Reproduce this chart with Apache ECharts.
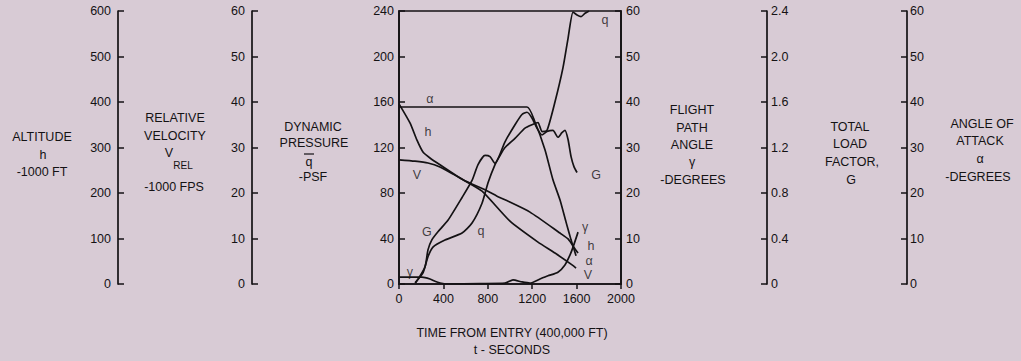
<!DOCTYPE html>
<html>
<head>
<meta charset="utf-8">
<script src="https://cdn.jsdelivr.net/npm/echarts@6/dist/echarts.min.js"></script>
<style>
  html,body{margin:0;padding:0;background:#d8cbd5;}
  #chart{width:1021px;height:361px;}
</style>
</head>
<body>
<div id="chart"></div>
<script>
// ---- Data ----
// time in seconds from entry
const timeTicks = [0, 400, 800, 1200, 1600, 2000];

// Altitude h, 1000 ft
const altT = [0, 99, 162, 216, 279, 369, 577, 775, 883, 955, 1180, 1450, 1523, 1586, 1613];
const altV = [396, 354, 316, 290, 277, 262, 229, 207, 193, 185, 158, 112, 99, 77, 68];

// Relative velocity V, 1000 fps
const velT = [0, 144, 261, 369, 577, 748, 1000, 1252, 1405, 1559, 1595];
const velV = [27.3, 27.0, 26.6, 25.7, 22.9, 20.4, 13.8, 9.2, 6.8, 4.2, 3.5];

// Angle of attack alpha, degrees
const aoaT = [0, 1153, 1225, 1315, 1387, 1450, 1505, 1550, 1595];
const aoaV = [38.9, 38.9, 35.6, 29.5, 22.9, 18.5, 13.6, 9.7, 6.2];

// Flight path angle gamma, degrees
const fpaT = [0, 207, 279, 342, 432, 730, 955, 1027, 1108, 1180, 1270, 1342, 1432, 1495, 1541, 1568, 1613];
const fpaV = [1.5, 1.5, 1.1, 0.45, 0, 0.1, 0.2, 0.9, 0.45, 0.2, 1.1, 1.8, 2.6, 4.2, 6.4, 8.1, 11.4];

// Total load factor G
const loadT = [150, 234, 261, 297, 351, 441, 568, 658, 712, 775, 820, 865, 955, 1045, 1108, 1153, 1198, 1243, 1288, 1333, 1387, 1432, 1468, 1495, 1523, 1550, 1577, 1604];
const loadV = [0.01, 0.15, 0.30, 0.39, 0.46, 0.56, 0.76, 0.91, 1.05, 1.13, 1.12, 1.06, 1.25, 1.40, 1.49, 1.51, 1.46, 1.37, 1.31, 1.34, 1.35, 1.29, 1.33, 1.35, 1.27, 1.12, 1.03, 0.98];

// Dynamic pressure q, psf
const dynT = [144, 216, 261, 306, 414, 568, 658, 748, 802, 865, 910, 955, 1045, 1135, 1198, 1252, 1288, 1333, 1405, 1477, 1523, 1568, 1604, 1640, 1676, 1712];
const dynV = [1, 9.7, 24, 32.5, 38.7, 44.8, 53.6, 71, 89, 105, 113, 120, 128, 137, 140, 142, 134, 135, 160, 190, 216, 239, 236.5, 235, 238, 240];

// Curve labels (placed in time / dynamic-pressure units)
const curveLabelText = ['α', 'h', 'V', 'G', 'q', 'γ', 'q', 'G', 'γ', 'h', 'α', 'V'];
const curveLabelT = [279, 261, 162, 252, 739, 99, 1856, 1775, 1676, 1730, 1712, 1703];
const curveLabelQ = [162.6, 133.6, 95.8, 45.7, 46.6, 10.5, 232, 95.8, 50.5, 33.5, 20.5, 7.5];

// ---- Chart ----
const INK = '#141214';
const FONT = '"Liberation Sans", Arial, sans-serif';
const pairs = (t, v) => t.map((x, i) => [x, v[i]]);
const lab = (margin, fmt) => {
  const o = { color: INK, fontSize: 12.5, fontFamily: FONT, margin };
  if (fmt) o.formatter = fmt;
  return o;
};

function yAx(o) {
  return Object.assign({
    type: 'value',
    splitLine: { show: false },
    axisLine: { show: true, onZero: false, lineStyle: { color: INK, width: 1.7 } },
    axisTick: { show: true, inside: true, length: 6, lineStyle: { color: INK, width: 1.5 } },
    axisLabel: lab(5)
  }, o);
}

const lineStyle = { color: INK, width: 1.7 };
function lineSeries(name, data, yIdx) {
  return {
    name, type: 'line', data, yAxisIndex: yIdx, xAxisIndex: 0,
    showSymbol: false, smooth: 0.2, lineStyle, silent: true, z: 3
  };
}

const chart = echarts.init(document.getElementById('chart'), null, { renderer: 'svg' });

const txt = (text, x, y, size) => ({
  type: 'text', x, y, silent: true,
  style: { text, fill: INK, font: (size || 12.5) + 'px ' + FONT, align: 'center', verticalAlign: 'middle' }
});

chart.setOption({
  animation: false,
  backgroundColor: '#d8cbd5',
  grid: { left: 399, top: 11, width: 222, height: 273, show: true, borderColor: INK, borderWidth: 1.7, backgroundColor: 'transparent' },
  xAxis: {
    type: 'value', min: 0, max: 2000, interval: 400,
    splitLine: { show: false },
    axisLine: { show: true, lineStyle: { color: INK, width: 1.7 } },
    axisTick: { show: true, inside: false, length: 5, lineStyle: { color: INK, width: 1.5 } },
    axisLabel: lab(8, v => String(v))
  },
  yAxis: [
    yAx({ min: 0, max: 240, interval: 40, position: 'left' }),                      // q
    yAx({ min: 0, max: 60, interval: 10, position: 'right' }),                      // gamma
    yAx({ min: 0, max: 600, interval: 100, position: 'left', offset: 281, axisLabel: lab(7) }), // h
    yAx({ min: 0, max: 60, interval: 10, position: 'left', offset: 147, axisLabel: lab(7) }),   // V
    yAx({ min: 0, max: 2.4, interval: 0.4, position: 'right', offset: 146,
          axisLabel: lab(4, v => v === 0 ? '0' : v.toFixed(1)) }),                  // G
    yAx({ min: 0, max: 60, interval: 10, position: 'right', offset: 286, axisLabel: lab(3) })   // alpha
  ],
  series: [
    lineSeries('q', pairs(dynT, dynV), 0),
    lineSeries('gamma', pairs(fpaT, fpaV), 1),
    lineSeries('h', pairs(altT, altV), 2),
    lineSeries('V', pairs(velT, velV), 3),
    lineSeries('G', pairs(loadT, loadV), 4),
    lineSeries('alpha', pairs(aoaT, aoaV), 5),
    {
      name: 'labels', type: 'scatter', yAxisIndex: 0, symbolSize: 0, silent: true, z: 5,
      data: curveLabelText.map((s, i) => ({ name: s, value: [curveLabelT[i], curveLabelQ[i]] })),
      label: { show: true, position: 'inside', formatter: p => p.name, color: INK, fontSize: 12.5, fontFamily: FONT }
    }
  ],
  graphic: [
    txt('ALTITUDE', 42, 137), txt('h', 43, 155), txt('-1000 FT', 42, 172),
    txt('RELATIVE', 175, 118), txt('VELOCITY', 175, 136), txt('V', 169, 153), txt('REL', 183, 165, 10), txt('-1000 FPS', 174, 187),
    txt('DYNAMIC', 313, 127), txt('PRESSURE', 314, 143), txt('q', 309, 162),
    { type: 'line', silent: true, shape: { x1: 304, y1: 154, x2: 314, y2: 154 }, style: { stroke: INK, lineWidth: 1.2 } },
    txt('-PSF', 313, 177),
    txt('FLIGHT', 692, 110), txt('PATH', 692, 128), txt('ANGLE', 692, 145), txt('γ', 692, 162), txt('-DEGREES', 693, 180),
    txt('TOTAL', 850, 127), txt('LOAD', 850, 144), txt('FACTOR,', 852, 162), txt('G', 851, 180),
    txt('ANGLE OF', 982, 124), txt('ATTACK', 980, 141), txt('α', 980, 159), txt('-DEGREES', 978, 177),
    txt('TIME FROM ENTRY (400,000 FT)', 512, 333), txt('t - SECONDS', 512, 350)
  ]
});
</script>
</body>
</html>
